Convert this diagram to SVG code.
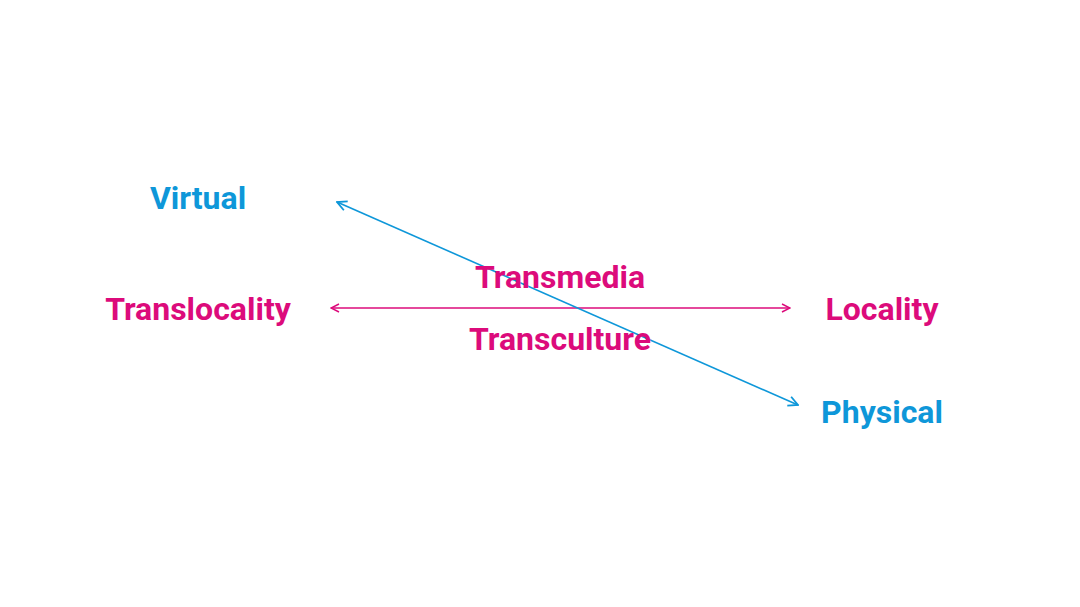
<svg xmlns="http://www.w3.org/2000/svg" width="1080" height="607" viewBox="0 0 1080 607">
<style>
text{font-family:Roboto,"Liberation Sans",sans-serif;font-weight:bold;font-size:32px}
.b{fill:#0e97d9}.m{fill:#dc0b7b}
</style>
<defs>
<marker id="am" viewBox="0 0 10 10" refX="9" refY="5" markerWidth="10" markerHeight="10" markerUnits="userSpaceOnUse" orient="auto-start-reverse"><path d="M1,1 L9,5 L1,9" fill="none" stroke="#dc0b7b" stroke-width="1.5"/></marker>
<marker id="ab" viewBox="0 0 10 10" refX="9" refY="5" markerWidth="12" markerHeight="12" markerUnits="userSpaceOnUse" orient="auto-start-reverse"><path d="M1,1 L9,5 L1,9" fill="none" stroke="#0e97d9" stroke-width="1.5"/></marker>
</defs>
<rect width="1080" height="607" fill="#fff"/>
<g id="connectors">
<line x1="331" y1="308" x2="790" y2="308" stroke="#dc0b7b" stroke-width="1.6" marker-start="url(#am)" marker-end="url(#am)"/>
<line x1="337" y1="202" x2="798" y2="405" stroke="#0e97d9" stroke-width="1.6" marker-start="url(#ab)" marker-end="url(#ab)"/>
</g>
<g id="virtual"><text class="b" x="198" y="209" text-anchor="middle">Virtual</text></g>
<g id="translocality"><text class="m" x="198" y="320" text-anchor="middle">Translocality</text></g>
<g id="transmedia"><text class="m" x="560" y="288" text-anchor="middle">Transmedia</text></g>
<g id="transculture"><text class="m" x="560" y="350" text-anchor="middle">Transculture</text></g>
<g id="locality"><text class="m" x="882" y="320" text-anchor="middle">Locality</text></g>
<g id="physical"><text class="b" x="882" y="423" text-anchor="middle">Physical</text></g>
</svg>
